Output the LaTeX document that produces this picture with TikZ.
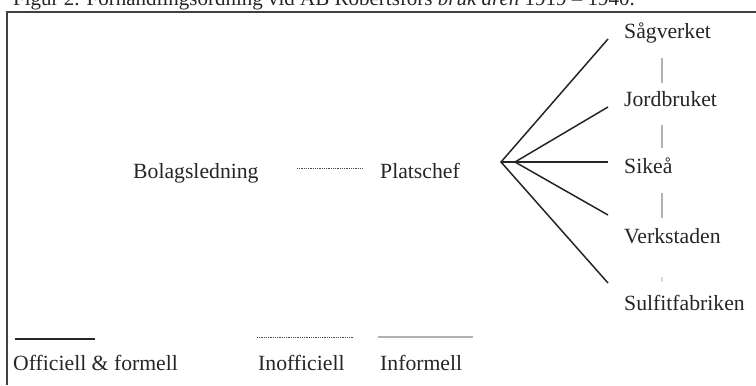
\documentclass[tikz,border=0pt]{standalone}
\usepackage{fontspec}
\setmainfont{Liberation Serif}
\begin{document}
\begin{tikzpicture}[x=1bp,y=-1bp,
  lbl/.style={inner sep=0pt,anchor=base west,font=\fontsize{21.7bp}{24bp}\selectfont,text=black!85},
  formal/.style={draw=black!85,line width=1.5bp},
  unoff/.style={draw=black!70,line width=1bp,dash pattern=on 1bp off 0.8bp},
  inform/.style={draw=black!30,line width=1.1bp},
  frame/.style={draw=black!75,line width=1.5bp}]
\useasboundingbox (0,0) rectangle (756,385);
\fill[white] (0,0) rectangle (756,385);
% title (cut at top as in reference)
\node[lbl,font=\fontsize{21bp}{24bp}\selectfont] (title) at (13,5.5) {Figur 2. Förhandlingsordning vid AB Robertsfors \textit{bruk åren} 1919 – 1940.};
% frame
\coordinate (ftl) at (7,12);
\coordinate (ftr) at (756,12);
\coordinate (fbl) at (7,385);
\draw[frame] (ftr) -- (ftl) -- (fbl);
% main nodes
\node[lbl] (bol) at (133,178) {Bolagsledning};
\node[lbl] (plat) at (380,178) {Platschef};
\coordinate (d1) at (297,168);
\coordinate (d2) at (362,168);
\draw[unoff] (d1) -- (d2);
% right nodes
\node[lbl] (sag) at (624,38) {Sågverket};
\node[lbl] (jord) at (624,106) {Jordbruket};
\node[lbl] (sik) at (624,173) {Sikeå};
\node[lbl] (verk) at (624,243) {Verkstaden};
\node[lbl] (sulf) at (624,310) {Sulfitfabriken};
% fan
\coordinate (apex) at (501,162);
\coordinate (apex2) at (515,162);
\coordinate (esag) at (608,39);
\coordinate (ejord) at (608,107);
\coordinate (esik) at (608,162);
\coordinate (everk) at (608,215);
\coordinate (esulf) at (608,283);
\draw[formal] (esag) -- (apex) -- (esulf);
\draw[formal] (ejord) -- (apex2) -- (everk);
\draw[formal] (apex) -- (esik);
% informal vertical links
\draw[inform] (662,58) -- (662,83);
\draw[inform] (662,125) -- (662,148);
\draw[inform] (662,193) -- (662,218);
\draw[draw=black!15,line width=1.1bp] (662,277) -- (662,282);
% legend
\coordinate (l1a) at (15,339); \coordinate (l1b) at (95,339);
\coordinate (l2a) at (257,337); \coordinate (l2b) at (353,337);
\coordinate (l3a) at (378,337); \coordinate (l3b) at (473,337);
\draw[formal,line width=2bp] (l1a) -- (l1b);
\draw[unoff] (l2a) -- (l2b);
\draw[inform] (l3a) -- (l3b);
\node[lbl] (leg1) at (13,370) {Officiell \& formell};
\node[lbl] (leg2) at (258,370) {Inofficiell};
\node[lbl] (leg3) at (380,370) {Informell};
\end{tikzpicture}
\end{document}
